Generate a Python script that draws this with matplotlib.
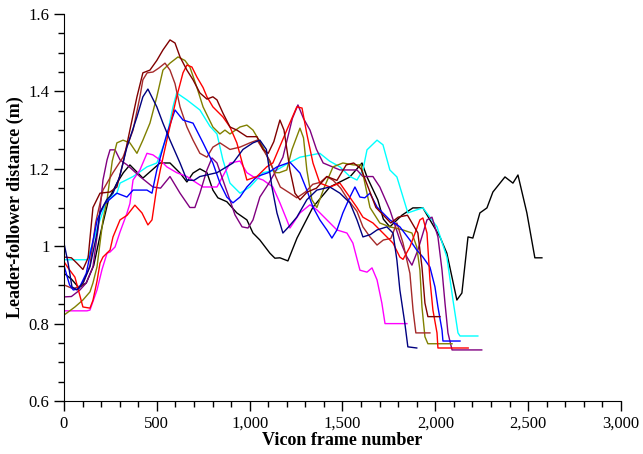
import matplotlib
matplotlib.use('Agg')
import matplotlib.pyplot as plt
from matplotlib.ticker import MultipleLocator, FuncFormatter

plt.rcParams['font.family'] = ['Liberation Serif', 'DejaVu Serif']

# leader-follower distance (m) vs vicon frame, one pair of lists per trial
black_f = [0, 40, 80, 120, 160, 200, 240, 285, 320, 355, 425, 517, 571, 625, 662, 695, 732, 770, 802, 829, 877, 931, 985, 1018, 1055, 1109, 1136, 1163, 1206, 1255, 1341, 1432, 1540, 1605, 1632, 1690, 1720, 1755, 1820, 1879, 1933, 1971, 2025, 2062, 2116, 2143, 2176, 2202, 2240, 2278, 2310, 2375, 2418, 2445, 2493, 2536, 2574]
black_d = [0.93, 0.915, 0.893, 0.905, 0.95, 1.04, 1.12, 1.163, 1.19, 1.21, 1.176, 1.215, 1.215, 1.189, 1.166, 1.189, 1.20, 1.19, 1.145, 1.125, 1.115, 1.086, 1.068, 1.034, 1.016, 0.982, 0.969, 0.97, 0.962, 1.021, 1.101, 1.153, 1.179, 1.215, 1.179, 1.12, 1.07, 1.05, 1.08, 1.099, 1.099, 1.068, 1.024, 0.982, 0.861, 0.879, 1.024, 1.021, 1.086, 1.099, 1.14, 1.179, 1.163, 1.184, 1.086, 0.97, 0.97]

navy_f = [0, 22, 43, 70, 102, 140, 178, 194, 230, 264, 300, 339, 393, 425, 452, 500, 533, 571, 625, 662, 700, 732, 824, 910, 964, 1018, 1055, 1090, 1120, 1147, 1179, 1210, 1254, 1308, 1362, 1432, 1486, 1540, 1578, 1610, 1650, 1686, 1739, 1772, 1793, 1809, 1836, 1852, 1900]
navy_d = [1.008, 0.957, 0.895, 0.887, 0.905, 0.947, 1.034, 1.088, 1.12, 1.137, 1.18, 1.256, 1.334, 1.386, 1.406, 1.36, 1.318, 1.274, 1.215, 1.171, 1.17, 1.18, 1.19, 1.215, 1.25, 1.267, 1.274, 1.25, 1.153, 1.086, 1.034, 1.05, 1.075, 1.12, 1.145, 1.153, 1.137, 1.112, 1.068, 1.024, 1.03, 1.042, 1.05, 1.034, 0.964, 0.887, 0.80, 0.74, 0.737]

blue_f = [0, 30, 50, 80, 120, 150, 180, 220, 285, 339, 372, 447, 474, 500, 554, 598, 641, 695, 749, 802, 840, 877, 910, 948, 985, 1039, 1100, 1147, 1217, 1271, 1308, 1341, 1378, 1416, 1443, 1470, 1502, 1540, 1567, 1594, 1620, 1648, 1686, 1755, 1809, 1863, 1900, 1933, 1971, 1998, 2014, 2036, 2041, 2133]
blue_d = [0.95, 0.90, 0.887, 0.89, 0.93, 1.0, 1.07, 1.11, 1.137, 1.127, 1.145, 1.145, 1.137, 1.197, 1.29, 1.352, 1.326, 1.318, 1.267, 1.215, 1.163, 1.127, 1.112, 1.127, 1.153, 1.18, 1.19, 1.205, 1.217, 1.189, 1.145, 1.101, 1.068, 1.042, 1.021, 1.042, 1.086, 1.127, 1.153, 1.127, 1.125, 1.137, 1.101, 1.068, 1.05, 1.016, 0.99, 0.972, 0.946, 0.895, 0.843, 0.783, 0.755, 0.755]

cyan_f = [0, 124, 150, 175, 194, 232, 285, 302, 372, 447, 500, 554, 587, 607, 662, 732, 786, 824, 856, 894, 948, 1001, 1072, 1147, 1210, 1271, 1378, 1430, 1486, 1540, 1578, 1610, 1632, 1686, 1718, 1755, 1793, 1826, 1852, 1900, 1933, 1971, 2009, 2062, 2095, 2122, 2133, 2229]
cyan_d = [0.965, 0.965, 1.0, 1.04, 1.068, 1.12, 1.137, 1.163, 1.18, 1.205, 1.215, 1.283, 1.36, 1.396, 1.378, 1.352, 1.31, 1.29, 1.223, 1.163, 1.137, 1.153, 1.19, 1.197, 1.215, 1.23, 1.24, 1.22, 1.205, 1.18, 1.171, 1.197, 1.249, 1.274, 1.262, 1.197, 1.179, 1.127, 1.086, 1.094, 1.099, 1.075, 1.05, 0.972, 0.861, 0.776, 0.768, 0.768]

red_f = [0, 22, 59, 102, 140, 156, 178, 194, 210, 248, 264, 302, 340, 382, 420, 452, 474, 500, 520, 554, 607, 641, 662, 689, 716, 749, 770, 802, 856, 894, 931, 985, 1039, 1092, 1125, 1200, 1254, 1282, 1308, 1341, 1378, 1432, 1486, 1578, 1610, 1664, 1718, 1772, 1809, 1826, 1863, 1917, 1933, 1955, 1971, 1987, 2009, 2014, 2177]
red_d = [0.96, 0.944, 0.92, 0.843, 0.84, 0.86, 0.91, 0.956, 0.972, 0.99, 1.024, 1.068, 1.08, 1.106, 1.086, 1.055, 1.068, 1.153, 1.20, 1.274, 1.386, 1.448, 1.468, 1.463, 1.437, 1.41, 1.386, 1.36, 1.334, 1.308, 1.267, 1.171, 1.18, 1.205, 1.215, 1.30, 1.36, 1.357, 1.29, 1.215, 1.163, 1.153, 1.163, 1.10, 1.075, 1.06, 1.034, 1.008, 0.972, 0.966, 0.998, 1.068, 1.073, 1.034, 0.913, 0.835, 0.776, 0.737, 0.737]

purple_f = [0, 40, 86, 120, 156, 185, 210, 232, 248, 275, 302, 340, 409, 479, 520, 571, 625, 678, 705, 732, 770, 797, 824, 856, 894, 921, 959, 991, 1018, 1055, 1100, 1136, 1179, 1230, 1260, 1290, 1325, 1360, 1396, 1486, 1578, 1610, 1664, 1701, 1755, 1809, 1847, 1874, 1906, 1955, 1982, 2014, 2036, 2052, 2068, 2090, 2250]
purple_d = [0.869, 0.87, 0.887, 0.905, 0.947, 1.05, 1.171, 1.223, 1.249, 1.249, 1.223, 1.21, 1.18, 1.153, 1.15, 1.18, 1.137, 1.10, 1.10, 1.137, 1.197, 1.228, 1.215, 1.171, 1.119, 1.081, 1.05, 1.047, 1.068, 1.127, 1.16, 1.19, 1.23, 1.33, 1.365, 1.33, 1.30, 1.25, 1.215, 1.197, 1.197, 1.18, 1.18, 1.153, 1.094, 1.016, 0.972, 0.951, 0.99, 1.068, 1.075, 1.024, 0.938, 0.853, 0.776, 0.732, 0.732]

magenta_f = [0, 124, 140, 178, 205, 232, 248, 275, 302, 339, 355, 372, 409, 447, 479, 517, 554, 607, 662, 716, 749, 824, 894, 948, 985, 1018, 1072, 1125, 1163, 1200, 1217, 1271, 1325, 1362, 1416, 1470, 1524, 1556, 1594, 1632, 1659, 1686, 1712, 1729, 1847]
magenta_d = [0.833, 0.833, 0.835, 0.887, 0.94, 0.982, 0.985, 0.998, 1.037, 1.085, 1.11, 1.171, 1.197, 1.24, 1.236, 1.223, 1.205, 1.19, 1.18, 1.163, 1.153, 1.153, 1.215, 1.22, 1.19, 1.18, 1.171, 1.153, 1.112, 1.068, 1.047, 1.086, 1.107, 1.094, 1.068, 1.042, 1.034, 1.008, 0.938, 0.933, 0.944, 0.913, 0.853, 0.80, 0.80]

olive_f = [0, 59, 102, 140, 156, 178, 194, 210, 232, 260, 285, 318, 355, 393, 425, 463, 500, 533, 571, 614, 651, 678, 716, 749, 802, 840, 867, 894, 948, 985, 1018, 1072, 1110, 1136, 1160, 1200, 1228, 1271, 1290, 1308, 1335, 1362, 1400, 1449, 1502, 1560, 1600, 1648, 1701, 1755, 1826, 1874, 1900, 1917, 1928, 1944, 1960, 2090]
olive_d = [0.822, 0.843, 0.861, 0.882, 0.905, 0.947, 1.008, 1.068, 1.12, 1.22, 1.267, 1.274, 1.267, 1.24, 1.274, 1.318, 1.386, 1.455, 1.473, 1.489, 1.48, 1.463, 1.41, 1.36, 1.308, 1.29, 1.30, 1.29, 1.308, 1.313, 1.30, 1.256, 1.215, 1.19, 1.19, 1.197, 1.25, 1.305, 1.28, 1.197, 1.12, 1.10, 1.15, 1.205, 1.215, 1.21, 1.21, 1.10, 1.06, 1.05, 1.042, 1.034, 0.998, 0.938, 0.843, 0.766, 0.748, 0.748]

maroon_f = [0, 40, 70, 102, 130, 156, 194, 248, 285, 318, 355, 393, 425, 463, 500, 533, 571, 598, 625, 662, 695, 732, 770, 802, 824, 856, 894, 931, 985, 1039, 1072, 1100, 1130, 1163, 1185, 1217, 1244, 1271, 1310, 1360, 1416, 1470, 1520, 1560, 1600, 1640, 1680, 1720, 1760, 1800, 1850, 1906, 1928, 1944, 1960, 2025]
maroon_d = [0.972, 0.97, 0.956, 0.94, 0.97, 1.10, 1.137, 1.14, 1.153, 1.215, 1.30, 1.386, 1.448, 1.455, 1.48, 1.507, 1.533, 1.525, 1.489, 1.455, 1.43, 1.396, 1.38, 1.386, 1.378, 1.344, 1.308, 1.30, 1.283, 1.283, 1.25, 1.24, 1.27, 1.326, 1.30, 1.197, 1.137, 1.12, 1.14, 1.15, 1.18, 1.17, 1.21, 1.215, 1.20, 1.15, 1.10, 1.08, 1.06, 1.075, 1.08, 1.034, 0.946, 0.853, 0.818, 0.818]

brown_f = [0, 50, 100, 140, 170, 210, 264, 318, 372, 409, 425, 448, 479, 510, 544, 571, 598, 625, 662, 695, 732, 770, 802, 840, 894, 948, 1001, 1040, 1072, 1110, 1140, 1165, 1217, 1254, 1300, 1340, 1380, 1416, 1450, 1490, 1530, 1578, 1610, 1648, 1686, 1720, 1760, 1793, 1826, 1863, 1880, 1895, 1971]
brown_d = [0.90, 0.89, 0.90, 0.95, 1.06, 1.145, 1.19, 1.23, 1.30, 1.386, 1.43, 1.448, 1.45, 1.46, 1.473, 1.455, 1.42, 1.36, 1.308, 1.274, 1.24, 1.23, 1.256, 1.267, 1.25, 1.256, 1.267, 1.274, 1.25, 1.22, 1.18, 1.153, 1.137, 1.125, 1.14, 1.16, 1.165, 1.18, 1.17, 1.15, 1.12, 1.09, 1.05, 1.024, 1.003, 1.016, 1.02, 1.06, 1.008, 0.93, 0.835, 0.776, 0.776]

fig = plt.figure(figsize=(6.43, 4.54), dpi=100)
ax = fig.add_axes([0.0995, 0.1167, 0.8663, 0.8525])

ax.plot(black_f, black_d, color='#000000', lw=1)
ax.plot(cyan_f, cyan_d, color='#00FFFF', lw=1)
ax.plot(magenta_f, magenta_d, color='#FF00FF', lw=1)
ax.plot(purple_f, purple_d, color='#800080', lw=1)
ax.plot(olive_f, olive_d, color='#808000', lw=1)
ax.plot(brown_f, brown_d, color='#A52A2A', lw=1)
ax.plot(blue_f, blue_d, color='#0000FF', lw=1)
ax.plot(red_f, red_d, color='#FF0000', lw=1)
ax.plot(maroon_f, maroon_d, color='#800000', lw=1)
ax.plot(navy_f, navy_d, color='#000080', lw=1)

ax.set_xlim(0, 3000)
ax.set_ylim(0.6, 1.6)
ax.spines['top'].set_visible(False)
ax.spines['right'].set_visible(False)
ax.xaxis.set_major_locator(MultipleLocator(500))
ax.xaxis.set_minor_locator(MultipleLocator(100))
ax.yaxis.set_major_locator(MultipleLocator(0.2))
ax.yaxis.set_minor_locator(MultipleLocator(0.05))
ax.xaxis.set_major_formatter(FuncFormatter(lambda v, p: '{:,.0f}'.format(v)))
ax.yaxis.set_major_formatter(FuncFormatter(lambda v, p: '{:g}'.format(round(v, 2))))
ax.tick_params(which='major', direction='out', length=7, width=1, labelsize=12)
ax.tick_params(which='minor', direction='out', length=4, width=1)

ax.set_xlabel('Vicon frame number', fontsize=13, fontweight='bold', labelpad=0)
ax.set_ylabel('Leader-follower distance (m)', fontsize=13, fontweight='bold', labelpad=3)

fig.savefig('out.png', dpi=100)
